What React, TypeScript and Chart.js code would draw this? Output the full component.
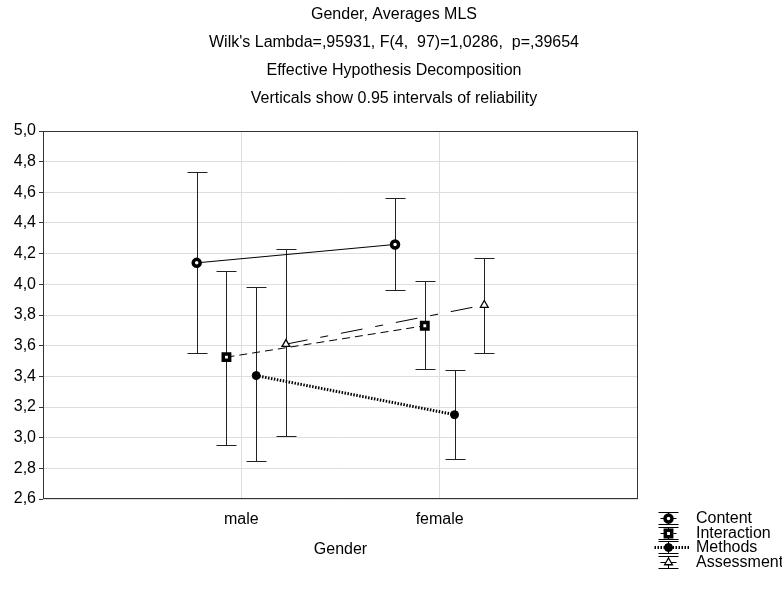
import React, { useEffect, useRef } from 'react';
import { Chart, registerables } from 'chart.js';

Chart.register(...registerables);

const categories = ['male', 'female'];
const seriesNames = ['Content', 'Interaction', 'Methods', 'Assessment'];
const seriesOffsets = [-0.225, -0.075, 0.075, 0.225];

const contentMeans = [4.14, 4.26];
const contentLow = [3.555, 3.96];
const contentHigh = [4.73, 4.56];

const interactionMeans = [3.525, 3.73];
const interactionLow = [2.955, 3.45];
const interactionHigh = [4.09, 4.025];

const methodsMeans = [3.405, 3.15];
const methodsLow = [2.845, 2.86];
const methodsHigh = [3.98, 3.44];

const assessmentMeans = [3.61, 3.865];
const assessmentLow = [3.01, 3.555];
const assessmentHigh = [4.23, 4.175];

const yMin = 2.6;
const yMax = 5.0;
const yStep = 0.2;

const titleLines = [
  'Gender, Averages MLS',
  "Wilk's Lambda=,95931, F(4,  97)=1,0286,  p=,39654",
  'Effective Hypothesis Decomposition',
  'Verticals show 0.95 intervals of reliability',
];
const xAxisTitle = 'Gender';

const FONT = 'Arial, "Liberation Sans", sans-serif';
const FS = 16;

const seriesMeans = [contentMeans, interactionMeans, methodsMeans, assessmentMeans];
const seriesLow = [contentLow, interactionLow, methodsLow, assessmentLow];
const seriesHigh = [contentHigh, interactionHigh, methodsHigh, assessmentHigh];

const styles = [
  { dash: [] as number[], width: 1, pointStyle: 'circle', radius: 3.5, pbw: 3.5, pbg: '#fff' },
  { dash: [8, 5], width: 1, pointStyle: 'rect', radius: 4.5, pbw: 3.5, pbg: '#fff' },
  { dash: [1.5, 1.5], width: 3, pointStyle: 'circle', radius: 4, pbw: 1, pbg: '#000' },
  { dash: [22, 13, 8, 13], width: 1, pointStyle: 'triangle', radius: 4.5, pbw: 1.3, pbg: '#fff' },
];

const titlePlugin = {
  id: 'centeredTitle',
  afterDraw(chart: any) {
    const { ctx } = chart;
    ctx.save();
    ctx.fillStyle = '#000';
    ctx.font = FS + 'px ' + FONT;
    ctx.textAlign = 'center';
    ctx.textBaseline = 'middle';
    titleLines.forEach((t, i) => ctx.fillText(t, 394, 15 + i * 28));
    ctx.restore();
  },
};

const frameAndErrorBars = {
  id: 'frameAndErrorBars',
  beforeDatasetsDraw(chart: any) {
    const { ctx, chartArea, scales } = chart;
    const x = scales.x;
    const y = scales.y;
    ctx.save();
    ctx.strokeStyle = '#333';
    ctx.lineWidth = 1;
    ctx.strokeRect(
      Math.round(chartArea.left) + 0.5,
      Math.round(chartArea.top) + 0.5,
      Math.round(chartArea.right - chartArea.left) - 1,
      Math.round(chartArea.bottom - chartArea.top) - 1
    );
    ctx.strokeStyle = '#222';
    ctx.lineWidth = 1;
    ctx.setLineDash([]);
    seriesMeans.forEach((means, si) => {
      means.forEach((_m, i) => {
        const px = Math.round(x.getPixelForValue(i + 1 + seriesOffsets[si])) + 0.5;
        const yl = Math.round(y.getPixelForValue(seriesLow[si][i])) + 0.5;
        const yh = Math.round(y.getPixelForValue(seriesHigh[si][i])) + 0.5;
        ctx.beginPath();
        ctx.moveTo(px, yl);
        ctx.lineTo(px, yh);
        ctx.moveTo(px - 10, yl);
        ctx.lineTo(px + 10, yl);
        ctx.moveTo(px - 10, yh);
        ctx.lineTo(px + 10, yh);
        ctx.stroke();
      });
    });
    ctx.restore();
  },
};

function drawMarker(ctx: CanvasRenderingContext2D, si: number, cx: number, cy: number) {
  const s = styles[si];
  ctx.save();
  ctx.setLineDash([]);
  ctx.strokeStyle = '#000';
  ctx.fillStyle = s.pbg;
  ctx.lineWidth = s.pbw;
  ctx.beginPath();
  if (s.pointStyle === 'circle') {
    ctx.arc(cx, cy, s.radius, 0, Math.PI * 2);
  } else if (s.pointStyle === 'rect') {
    const r = s.radius * Math.SQRT1_2;
    ctx.rect(cx - r, cy - r, 2 * r, 2 * r);
  } else {
    const r = s.radius;
    ctx.moveTo(cx, cy - r);
    ctx.lineTo(cx + r * 0.87, cy + r * 0.5);
    ctx.lineTo(cx - r * 0.87, cy + r * 0.5);
    ctx.closePath();
  }
  ctx.fill();
  ctx.stroke();
  ctx.restore();
}

const legendPlugin = {
  id: 'customLegend',
  afterDraw(chart: any) {
    const { ctx } = chart;
    const x0 = 668;
    const y0 = 518;
    const rowH = 14.7;
    ctx.save();
    seriesNames.forEach((name, si) => {
      const cy = Math.round(y0 + si * rowH) + 0.5;
      const cx = x0 + 0.5;
      ctx.strokeStyle = '#000';
      ctx.lineWidth = 1;
      ctx.setLineDash([]);
      ctx.beginPath();
      ctx.moveTo(cx - 10, cy - 6);
      ctx.lineTo(cx + 10, cy - 6);
      ctx.moveTo(cx - 10, cy + 6);
      ctx.lineTo(cx + 10, cy + 6);
      ctx.moveTo(cx, cy - 6);
      ctx.lineTo(cx, cy + 6);
      ctx.stroke();
      const s = styles[si];
      ctx.lineWidth = s.width;
      ctx.setLineDash(si === 3 ? [] : s.dash);
      ctx.beginPath();
      ctx.moveTo(si === 2 ? cx - 14 : cx - 8, cy);
      ctx.lineTo(si === 2 ? cx + 22 : cx + 8, cy);
      ctx.stroke();
      drawMarker(ctx, si, cx, cy);
      ctx.setLineDash([]);
      ctx.fillStyle = '#000';
      ctx.font = FS + 'px ' + FONT;
      ctx.textBaseline = 'middle';
      ctx.textAlign = 'left';
      ctx.fillText(name, 696, cy);
    });
    ctx.restore();
  },
};

export default function App() {
  const ref = useRef<HTMLCanvasElement | null>(null);

  useEffect(() => {
    if (!ref.current) return;
    const datasets = seriesNames.map((name, si) => ({
      label: name,
      data: categories.map((_c, i) => ({ x: i + 1 + seriesOffsets[si], y: seriesMeans[si][i] })),
      borderColor: '#000',
      backgroundColor: styles[si].pbg,
      borderWidth: styles[si].width,
      borderDash: styles[si].dash,
      pointStyle: styles[si].pointStyle as any,
      pointRadius: styles[si].radius,
      pointBorderWidth: styles[si].pbw,
      pointBorderColor: '#000',
      pointBackgroundColor: styles[si].pbg,
      fill: false,
      tension: 0,
    }));

    const chart = new Chart(ref.current, {
      type: 'line',
      data: { datasets },
      plugins: [frameAndErrorBars, legendPlugin, titlePlugin],
      options: {
        animation: false,
        responsive: false,
        devicePixelRatio: 1,
        layout: { padding: { left: 0, right: 144, top: 131, bottom: 31 } },
        plugins: {
          legend: { display: false },
          tooltip: { enabled: false },
          title: { display: false },
        },
        scales: {
          x: {
            type: 'linear',
            min: 0,
            max: 3,
            afterBuildTicks: (scale: any) => {
              scale.ticks = categories.map((_c, i) => ({ value: i + 1 }));
            },
            afterFit: (scale: any) => {
              scale.height = 60;
            },
            ticks: {
              color: '#000',
              font: { family: FONT, size: FS },
              padding: 11,
              callback: (v: any) => categories[Number(v) - 1] ?? '',
            },
            grid: { color: '#dedede', tickLength: 4, drawTicks: false },
            border: { display: false },
            title: {
              display: true,
              text: xAxisTitle,
              color: '#000',
              font: { family: FONT, size: FS },
              padding: { top: 0, bottom: 0 },
            },
          },
          y: {
            type: 'linear',
            min: yMin,
            max: yMax,
            afterFit: (scale: any) => {
              scale.width = 43;
            },
            ticks: {
              stepSize: yStep,
              color: '#000',
              font: { family: FONT, size: FS },
              padding: 3,
              callback: (v: any) => Number(v).toFixed(1).replace('.', ','),
            },
            grid: { color: '#dedede', tickLength: 4, tickColor: '#333' },
            border: { display: false },
          },
        },
      },
    });
    return () => chart.destroy();
  }, []);

  return (
    <div style={{ position: 'absolute', left: 0, top: 0, width: 782, height: 590, background: '#fff' }}>
      <canvas ref={ref} width={782} height={590} />
    </div>
  );
}
